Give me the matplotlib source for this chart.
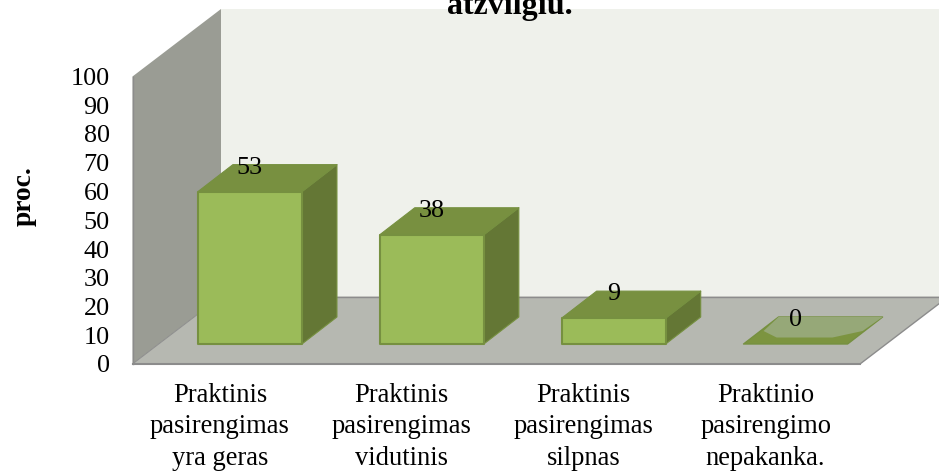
import matplotlib
matplotlib.use("Agg")
import matplotlib.pyplot as plt
from matplotlib.patches import Polygon
from matplotlib.transforms import Affine2D

plt.rcParams['font.family'] = ['Liberation Serif', 'DejaVu Serif']

categories = ["Praktinis\npasirengimas\nyra geras",
              "Praktinis\npasirengimas\nvidutinis",
              "Praktinis\npasirengimas\nsilpnas",
              "Praktinio\npasirengimo\nnepakanka."]
values = [53, 38, 9, 0]
value_ticks = list(range(0, 101, 10))
title_text = "atzvilgiu."
y_label = "proc."

W, H = 939, 472
DPI = 100
fig = plt.figure(figsize=(W / DPI, H / DPI), dpi=DPI, facecolor="white")
L, R, B, T = 132.5, 860, 364, 76.5
ax = fig.add_axes([L / W, 1 - B / H, (R - L) / W, (B - T) / H])
ax.set_xlim(0, 4)
ax.set_ylim(0, 100)
ax.patch.set_visible(False)
for s in ax.spines.values():
    s.set_visible(False)

DX, DY = 88.5, 67.5          # chart depth in pixels
BDX, BDY = 35, 27            # bar depth in pixels
OX, OY = 26.5, 20            # bar offset from the front floor edge
BW = 0.572


def quad(points, color, edge=None, lw=0, z=1, alpha=None):
    """points: (x, y, dx, dy): data position plus pixel depth offset."""
    verts = []
    for x, y, dx, dy in points:
        p = ax.transData.transform((x, y))
        verts.append((p[0] + dx, p[1] + dy))
    poly = Polygon(verts, closed=True, facecolor=color, edgecolor=edge or "none",
                   linewidth=lw, transform=None, zorder=z, alpha=alpha, joinstyle="round")
    poly.set_clip_on(False)
    fig.add_artist(poly)
    return poly


# Back wall
quad([(0, 0, DX, DY), (4, 0, DX + 100, DY), (4, 100, DX + 100, DY), (0, 100, DX, DY)], "#EFF1EB", z=1)
# Left wall
quad([(0, 0, 0, 0), (0, 100, 0, 0), (0, 100, DX, DY), (0, 0, DX, DY)], "#9A9C94", z=2)
# Floor
quad([(0, 0, 0, 0), (4, 0, 0, 0), (4, 0, DX, DY), (0, 0, DX, DY)], "#B6B8B1", z=3)
# Floor edges
for pts, w in (([(0, 0, 0, 0), (4, 0, 0, 0)], 1.5),
               ([(4, 0, 0, 0), (4, 0, DX, DY)], 1.0),
               ([(0, 0, DX, DY), (4, 0, DX, DY)], 1.0),
               ([(0, 0, 0, 0), (0, 0, DX, DY)], 0.7),
               ([(0, 0, 0, 0), (0, 100, 0, 0)], 1.0)):
    a = ax.transData.transform(pts[0][:2]) + pts[0][2:]
    b = ax.transData.transform(pts[1][:2]) + pts[1][2:]
    fig.add_artist(plt.Line2D([a[0], b[0]], [a[1], b[1]], color="#8C8C8C", lw=w, transform=None, zorder=3.5))

# Bars
EDGE = "#769040"
for i, v in enumerate(values):
    x0 = i + 0.5 - BW / 2
    x1 = i + 0.5 + BW / 2
    if v == 0:
        quad([(x0, 0, OX, OY), (x1, 0, OX, OY), (x1, 0, OX + BDX, OY + BDY), (x0, 0, OX + BDX, OY + BDY)],
             "#7C9440", edge=EDGE, lw=1, z=4)
        quad([(x0, 0, OX + 20, OY + 13), (x0, 0, OX + 33, OY + 6.5), (x1, 0, OX - 15, OY + 6.5),
              (x1, 0, OX + 15, OY + 13), (x1, 0, OX + BDX, OY + BDY), (x0, 0, OX + BDX, OY + BDY)],
             "#96A878", z=4.1)
    else:
        quad([(x1, 0, OX, OY), (x1, 0, OX + BDX, OY + BDY), (x1, v, OX + BDX, OY + BDY), (x1, v, OX, OY)],
             "#647735", edge=EDGE, lw=0.8, z=4)
        quad([(x0, v, OX, OY), (x1, v, OX, OY), (x1, v, OX + BDX, OY + BDY), (x0, v, OX + BDX, OY + BDY)],
             "#789040", edge=EDGE, lw=0.8, z=4)
        quad([(x0, 0, OX, OY), (x1, 0, OX, OY), (x1, v, OX, OY), (x0, v, OX, OY)],
             "#9BBB59", edge=EDGE, lw=1.5, z=4.1)
    # value label
    px = ax.transData.transform((i + 0.5, v))
    fig.text((px[0] + OX - 0.5) / W, (px[1] + OY + BDY - 3) / H, str(v),
             fontsize=18.8, ha="center", va="center", color="black", zorder=6)

# Axes ticks and labels
ax.set_yticks(value_ticks)
ax.set_yticklabels([str(t) for t in value_ticks], fontsize=18.8, color="black")
ax.tick_params(axis="y", length=0, pad=16.5)
ax.set_xticks([i + 0.5 for i in range(len(categories))])
ax.set_xticklabels(categories, fontsize=19.1, linespacing=1.35, color="black")
ax.tick_params(axis="x", length=0, pad=13.5)
for lab in ax.get_xticklabels():
    lab.set_transform(lab.get_transform() + Affine2D().translate(-3.5, 0))

fig.text(24 / W, 1 - 196.5 / H, y_label, rotation=90, fontsize=19.8, fontweight="bold",
         ha="center", va="center")
fig.text(510 / W, 1 - 14 / H, title_text, fontsize=23, fontweight="bold", ha="center", va="baseline")

fig.savefig("out.png", dpi=DPI, facecolor="white")
